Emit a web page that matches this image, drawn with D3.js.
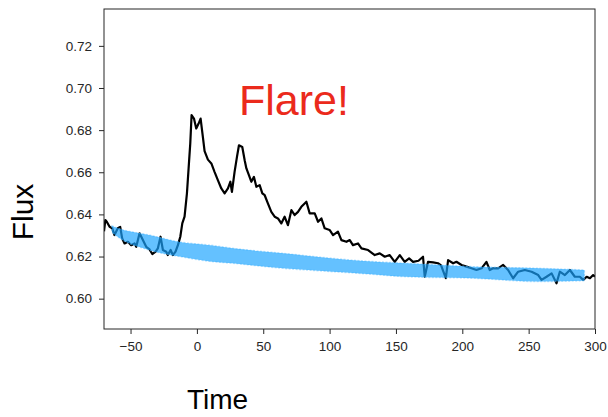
<!DOCTYPE html>
<html>
<head>
<meta charset="utf-8">
<script src="https://cdn.jsdelivr.net/npm/d3@7"></script>
<style>
  html, body { margin: 0; padding: 0; background: #fff; }
  svg { display: block; }
</style>
</head>
<body>
<div id="chart"></div>
<script>
// light curve: [time, flux]
const lightCurve = [
  [-70, 0.6320], [-69, 0.6373], [-67.9, 0.6365], [-65.8, 0.6341], [-63.8, 0.6334],
  [-62.1, 0.6302], [-59.6, 0.6334], [-57.8, 0.6341], [-56.3, 0.6286], [-54.5, 0.6262],
  [-52, 0.6270], [-49.5, 0.6254], [-47, 0.6262], [-45.7, 0.6246], [-43.2, 0.6310],
  [-40.7, 0.6278], [-38.2, 0.6246], [-35.7, 0.6234], [-33.6, 0.6212], [-31.1, 0.6223],
  [-29.4, 0.6239], [-27.4, 0.6294], [-25.6, 0.6231], [-23.1, 0.6223], [-21.9, 0.6207],
  [-19.8, 0.6231], [-18.1, 0.6207], [-16.1, 0.6223], [-14.3, 0.6254], [-12.5, 0.6294],
  [-11, 0.6357], [-9.3, 0.6389], [-7.5, 0.6500], [-6, 0.6642], [-5, 0.6736],
  [-4, 0.6871], [-2.2, 0.6855], [-0.5, 0.6808], [1.3, 0.6831], [2.8, 0.6855],
  [4.5, 0.6768], [5.8, 0.6700], [8.3, 0.6660], [10.9, 0.6642], [13.3, 0.6602],
  [15.8, 0.6563], [18.4, 0.6523], [20.9, 0.6500], [23.4, 0.6523], [25.2, 0.6555],
  [26.4, 0.6507], [28.4, 0.6602], [30.2, 0.6673], [31.7, 0.6728], [34.2, 0.6720],
  [36, 0.6657], [37.3, 0.6618], [39.2, 0.6586], [41, 0.6555], [43, 0.6578],
  [44.8, 0.6531], [47.3, 0.6539], [49.3, 0.6500], [51.1, 0.6491], [53.5, 0.6452],
  [56.1, 0.6412], [58.6, 0.6389], [61.1, 0.6381], [63.6, 0.6357], [66.1, 0.6389],
  [68.6, 0.6349], [71.2, 0.6420], [73.7, 0.6397], [76.2, 0.6412], [78.7, 0.6436],
  [81.2, 0.6452], [82.5, 0.6460], [85, 0.6405], [88.8, 0.6405], [91.3, 0.6365],
  [93.8, 0.6381], [96.3, 0.6334], [100, 0.6326], [102.6, 0.6302], [106.3, 0.6318],
  [108.9, 0.6278], [112.7, 0.6270], [115.2, 0.6278], [117.6, 0.6254], [121.4, 0.6262],
  [124, 0.6239], [129, 0.6231], [134, 0.6207], [137.8, 0.6215], [141.6, 0.6199],
  [145.3, 0.6207], [149.1, 0.6175], [152.9, 0.6207], [156.6, 0.6175], [159.9, 0.6191],
  [162.9, 0.6175], [167, 0.6180], [170.4, 0.6199], [171.7, 0.6104], [174.2, 0.6175],
  [178, 0.6172], [181.7, 0.6168], [184, 0.6158], [187.6, 0.6097], [189.3, 0.6183],
  [193.1, 0.6168], [195.6, 0.6175], [199.4, 0.6160], [203.2, 0.6152], [206.9, 0.6144],
  [210.7, 0.6136], [214.5, 0.6144], [218.2, 0.6175], [220.7, 0.6136], [223.2, 0.6144],
  [227, 0.6144], [230.8, 0.6160], [234.5, 0.6136], [238.3, 0.6097], [242.1, 0.6128],
  [247.1, 0.6136], [252.2, 0.6128], [257.2, 0.6112], [259.7, 0.6089], [263.5, 0.6104],
  [267.3, 0.6120], [271, 0.6073], [273.5, 0.6128], [277.3, 0.6112], [281.1, 0.6136],
  [284.8, 0.6104], [288.6, 0.6104], [291.1, 0.6089], [293.7, 0.6104], [296.2, 0.6097],
  [298.6, 0.6112], [300, 0.6105]
];

// quiescent model band: [time, upper, lower]
const modelBand = [
  [-64, 0.6345, 0.6315], [-60, 0.6335, 0.6295], [-36, 0.6302, 0.6231],
  [-12, 0.6268, 0.6199], [10, 0.6254, 0.6177], [27, 0.6239, 0.6168],
  [65, 0.6215, 0.6144], [103, 0.6191, 0.6128], [123, 0.6180, 0.6120],
  [158, 0.6168, 0.6104], [208, 0.6152, 0.6097], [258, 0.6144, 0.6081],
  [292, 0.6136, 0.6085]
];

const xTicks = [-50, 0, 50, 100, 150, 200, 250, 300];
const yTicks = [0.60, 0.62, 0.64, 0.66, 0.68, 0.70, 0.72];

const width = 608, height = 417;
const margin = {top: 9, right: 13, bottom: 88, left: 104};

const x = d3.scaleLinear().domain([-70, 300]).range([margin.left, width - margin.right]);
const y = d3.scaleLinear().domain([0.5856, 0.7375]).range([height - margin.bottom, margin.top]);

const svg = d3.select("#chart").append("svg")
    .attr("width", width)
    .attr("height", height)
    .attr("font-family", "DejaVu Sans, sans-serif");

svg.append("defs").append("clipPath")
    .attr("id", "plot-clip")
  .append("rect")
    .attr("x", margin.left)
    .attr("y", margin.top)
    .attr("width", width - margin.left - margin.right)
    .attr("height", height - margin.top - margin.bottom);

const plot = svg.append("g").attr("clip-path", "url(#plot-clip)");

const line = d3.line()
    .x(d => x(d[0]))
    .y(d => y(d[1]));

plot.append("path")
    .datum(lightCurve)
    .attr("fill", "none")
    .attr("stroke", "#000")
    .attr("stroke-width", 2.2)
    .attr("stroke-linejoin", "round")
    .attr("d", line);

const band = d3.area()
    .curve(d3.curveMonotoneX)
    .x(d => x(d[0]))
    .y0(d => y(d[2]))
    .y1(d => y(d[1]));

// ragged light edge, then the dense core
plot.append("path")
    .datum(modelBand)
    .attr("fill", "none")
    .attr("stroke", "#7cccff")
    .attr("stroke-opacity", 0.5)
    .attr("stroke-width", 1.5)
    .attr("stroke-dasharray", "2,1.5")
    .attr("d", band);

plot.append("path")
    .datum(modelBand)
    .attr("fill", "#1aa3ff")
    .attr("fill-opacity", 0.68)
    .attr("d", band);

// axes
const xAxis = d3.axisBottom(x)
    .tickValues(xTicks)
    .tickSize(5)
    .tickPadding(7.5)
    .tickFormat(d3.format("d"));

const yAxis = d3.axisLeft(y)
    .tickValues(yTicks)
    .tickSize(5)
    .tickPadding(7)
    .tickFormat(d3.format(".2f"));

svg.append("g")
    .attr("transform", `translate(0,${height - margin.bottom})`)
    .call(xAxis)
    .call(g => g.select(".domain").remove())
    .call(g => g.selectAll("text").attr("font-size", 13.5).attr("fill", "#262626"));

svg.append("g")
    .attr("transform", `translate(${margin.left},0)`)
    .call(yAxis)
    .call(g => g.select(".domain").remove())
    .call(g => g.selectAll("text").attr("font-size", 13.5).attr("fill", "#262626"));

svg.selectAll(".tick line").attr("stroke", "#262626");

// frame
svg.append("rect")
    .attr("x", margin.left)
    .attr("y", margin.top)
    .attr("width", width - margin.left - margin.right)
    .attr("height", height - margin.top - margin.bottom)
    .attr("fill", "none")
    .attr("stroke", "#262626")
    .attr("stroke-width", 1);

// labels
svg.append("text")
    .attr("x", 187)
    .attr("y", 409)
    .attr("font-family", "Liberation Sans, Arial, sans-serif")
    .attr("font-size", 28)
    .attr("fill", "#000")
    .text("Time");

svg.append("text")
    .attr("transform", "translate(33,212) rotate(-90)")
    .attr("text-anchor", "middle")
    .attr("font-family", "Liberation Sans, Arial, sans-serif")
    .attr("font-size", 30)
    .attr("fill", "#000")
    .text("Flux");

svg.append("text")
    .attr("x", 239)
    .attr("y", 115)
    .attr("font-family", "Liberation Sans, Arial, sans-serif")
    .attr("font-size", 43)
    .attr("fill", "#eb2a1c")
    .text("Flare!");
</script>
</body>
</html>
